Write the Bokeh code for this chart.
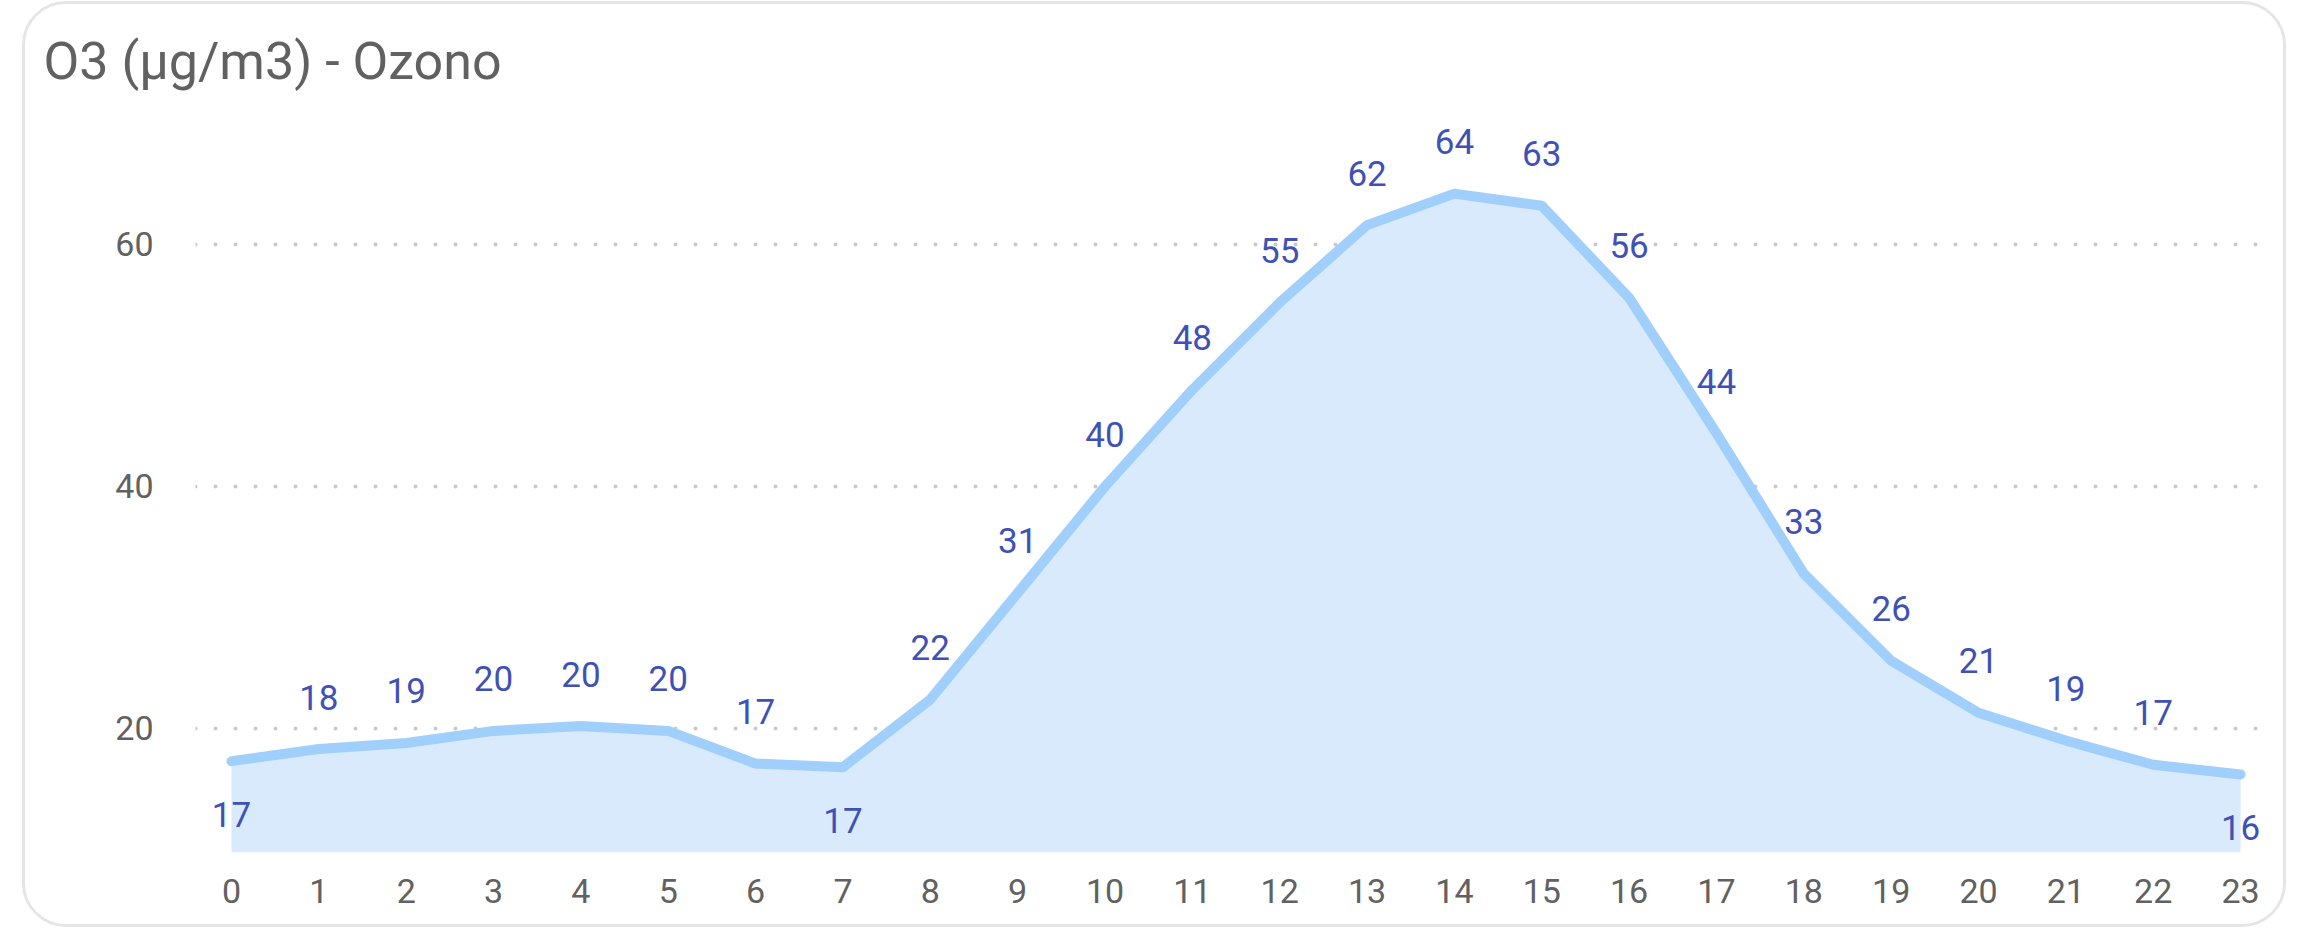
from bokeh.plotting import figure
from bokeh.models import Range1d, FixedTicker, ColumnDataSource
from bokeh.core.properties import value
from bokeh.embed import file_html
from bokeh.resources import INLINE

# ---- data ----
hours = list(range(24))
ozone = [17.3, 18.3, 18.8, 19.8, 20.2, 19.8, 17.1, 16.8, 22.4, 31.2, 40.0, 48.0,
         55.2, 61.6, 64.2, 63.2, 55.6, 44.4, 32.8, 25.6, 21.3, 19.0, 17.0, 16.2]
y_ticks = [20, 40, 60]
x_tick_labels = [str(h) for h in hours]
title_text = "O3 (µg/m3) - Ozono"

FONT = "Roboto"
Y_MIN, Y_MAX = 9.75, 71.9

p = figure(width=2264, height=926,
           x_range=Range1d(-0.412, 23.297), y_range=Range1d(Y_MIN, Y_MAX),
           output_backend="svg", toolbar_location=None,
           min_border_left=170, min_border_right=23,
           min_border_top=96, min_border_bottom=78)

p.styles = {"border": "3px solid #e5e5e5", "border-radius": "44px",
            "margin": "1px 0px 0px 22px", "overflow": "hidden"}
p.background_fill_color = "white"
p.border_fill_color = "white"
p.outline_line_color = None

# title
p.title.text = title_text
p.title.text_font = FONT
p.title.text_font_size = "52px"
p.title.text_font_style = "normal"
p.title.text_color = "#616161"
p.title.align = "left"
p.title.offset = -152
p.title.standoff = 17

# area + line
p.varea(x=hours, y1=[Y_MIN] * len(hours), y2=ozone, fill_color="#d8eafc", fill_alpha=1.0)
p.line(x=hours, y=ozone, line_color="#a0cffc", line_width=10,
       line_cap="round", line_join="round")

# data labels (below the point at local minima, above otherwise)
offs = []
n = len(ozone)
for i, v in enumerate(ozone):
    left = ozone[i - 1] if i > 0 else None
    right = ozone[i + 1] if i < n - 1 else None
    is_min = (left is None or v < left) and (right is None or v < right)
    offs.append(53 if is_min else -52)
src = ColumnDataSource(dict(x=hours, y=ozone, label=[str(round(v)) for v in ozone], off=offs))
p.text(x="x", y="y", text="label", y_offset="off", source=src,
       text_align="center", text_baseline="middle",
       text_font=value(FONT), text_font_size="35px", text_color="#3f51b5")

# axes
p.xaxis.ticker = FixedTicker(ticks=hours)
p.xaxis.major_label_overrides = {h: lab for h, lab in zip(hours, x_tick_labels)}
p.yaxis.ticker = FixedTicker(ticks=y_ticks)
for ax in (p.xaxis[0], p.yaxis[0]):
    ax.axis_line_color = None
    ax.major_tick_line_color = None
    ax.minor_tick_line_color = None
    ax.major_tick_in = 0
    ax.major_tick_out = 0
    ax.minor_tick_in = 0
    ax.minor_tick_out = 0
    ax.major_label_text_font = FONT
    ax.major_label_text_font_size = "34px"
    ax.major_label_text_color = "#616161"
p.xaxis.major_label_standoff = 26
p.yaxis.major_label_standoff = 42

# grid
p.xgrid.grid_line_color = None
p.ygrid.grid_line_color = "#c8c8c8"
p.ygrid.grid_line_width = 4
p.ygrid.grid_line_dash = "0 20"
p.ygrid.grid_line_cap = "round"

open("out.html", "w").write(file_html(p, INLINE))
